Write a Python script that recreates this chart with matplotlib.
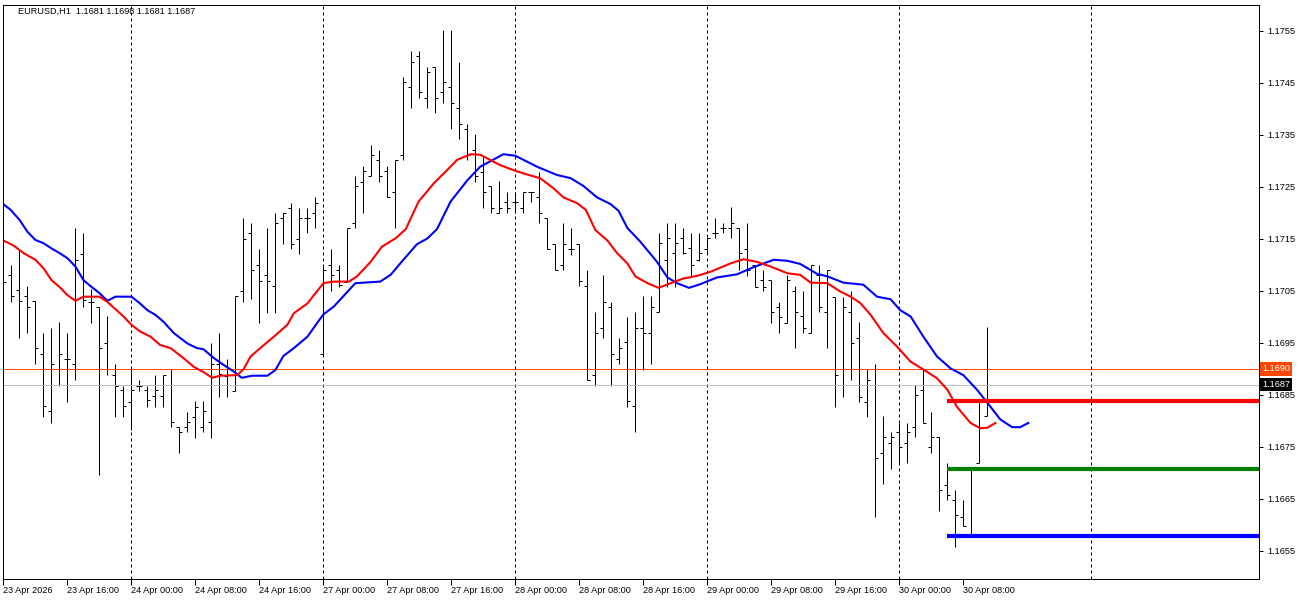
import matplotlib
matplotlib.use("Agg")
import matplotlib.pyplot as plt
import matplotlib.transforms as mtransforms

# EURUSD H1 bars, 23 Apr 08:00 .. 30 Apr 11:00
opens = [1.1703, 1.17081, 1.17051, 1.17040, 1.17031, 1.16929, 1.16819, 1.16899, 1.16919, 1.16910,
         1.17121, 1.17029, 1.17019, 1.16949, 1.16888, 1.16860, 1.16837, 1.16868, 1.16860, 1.16848,
         1.16848, 1.16899, 1.16788, 1.16788, 1.16808, 1.16788, 1.16798, 1.16909, 1.16887, 1.16858,
         1.17050, 1.17161, 1.17100, 1.17080, 1.17060, 1.17190, 1.17209, 1.17149, 1.17190, 1.17199,
         1.16929, 1.17100, 1.17090, 1.17068, 1.17180, 1.17260, 1.17271, 1.17302, 1.17281, 1.17240,
         1.17312, 1.17442, 1.17502, 1.17421, 1.17481, 1.17433, 1.17443, 1.17401, 1.17361, 1.17321,
         1.17279, 1.17252, 1.17199, 1.17222, 1.17222, 1.17210, 1.17241, 1.17231, 1.17190, 1.17140,
         1.17100, 1.17130, 1.17140, 1.17060, 1.16888, 1.16978, 1.17020, 1.16919, 1.16951, 1.16829,
         1.16979, 1.16970, 1.17009, 1.17110, 1.17123, 1.17151, 1.17132, 1.17110, 1.17130, 1.17161,
         1.17171, 1.17171, 1.17172, 1.17130, 1.17100, 1.17071, 1.17071, 1.17020, 1.16989, 1.17050,
         1.17001, 1.16969, 1.17081, 1.17010, 1.17039, 1.16899, 1.17010, 1.16959, 1.16837, 1.16869,
         1.16739, 1.16758, 1.16779, 1.16758, 1.16789, 1.16860, 1.16749, 1.16769, 1.16677, 1.16648,
         1.16616, 1.16578, 1.16719, 1.1681]
highs = [1.17068, 1.17100, 1.17129, 1.17060, 1.17031, 1.16969, 1.16978, 1.16990, 1.16969, 1.17171,
         1.17161, 1.17053, 1.17019, 1.17001, 1.16910, 1.16868, 1.16899, 1.16879, 1.16868, 1.16888,
         1.16888, 1.16899, 1.16788, 1.16818, 1.16838, 1.16838, 1.16949, 1.16969, 1.16919, 1.17040,
         1.17190, 1.17180, 1.17130, 1.17171, 1.17199, 1.17199, 1.17220, 1.17209, 1.17209, 1.17231,
         1.17100, 1.17130, 1.17100, 1.17171, 1.17271, 1.17290, 1.17331, 1.17321, 1.17290, 1.17302,
         1.17461, 1.17512, 1.17512, 1.17481, 1.17481, 1.17552, 1.17552, 1.17491, 1.17371, 1.17352,
         1.17310, 1.17252, 1.17262, 1.17241, 1.17241, 1.17241, 1.17241, 1.17279, 1.17190, 1.17140,
         1.17180, 1.17171, 1.17140, 1.17090, 1.17009, 1.17081, 1.17029, 1.16959, 1.16999, 1.17009,
         1.17040, 1.17040, 1.17162, 1.17181, 1.17181, 1.17172, 1.17162, 1.17162, 1.17154, 1.17190,
         1.17180, 1.17212, 1.17172, 1.17181, 1.17100, 1.17090, 1.17071, 1.17029, 1.17081, 1.17060,
         1.17050, 1.17100, 1.17100, 1.17090, 1.17039, 1.17039, 1.17049, 1.16991, 1.16899, 1.16909,
         1.16810, 1.16779, 1.16797, 1.16797, 1.16869, 1.16899, 1.16818, 1.16769, 1.16719, 1.16667,
         1.16648, 1.16709, 1.16837, 1.1698]
lows = [1.17009, 1.17029, 1.16959, 1.16969, 1.16909, 1.16808, 1.16797, 1.16868, 1.16837, 1.16878,
        1.17019, 1.16989, 1.16696, 1.16888, 1.16808, 1.16808, 1.16783, 1.16858, 1.16827, 1.16827,
        1.16827, 1.16788, 1.16738, 1.16778, 1.16768, 1.16778, 1.16768, 1.16847, 1.16847, 1.16858,
        1.17029, 1.17034, 1.16989, 1.17008, 1.17008, 1.17140, 1.17130, 1.17121, 1.17161, 1.17171,
        1.16929, 1.17049, 1.17058, 1.17068, 1.17171, 1.17199, 1.17271, 1.17260, 1.17230, 1.17171,
        1.17302, 1.17401, 1.17421, 1.17401, 1.17392, 1.17411, 1.17361, 1.17342, 1.17302, 1.17260,
        1.17210, 1.17199, 1.17199, 1.17199, 1.17199, 1.17199, 1.17222, 1.17180, 1.17130, 1.17090,
        1.17090, 1.17119, 1.17060, 1.16879, 1.16868, 1.16959, 1.16868, 1.16909, 1.16827, 1.16778,
        1.16898, 1.16910, 1.17009, 1.17058, 1.17058, 1.17121, 1.17079, 1.17108, 1.17123, 1.17151,
        1.17162, 1.17151, 1.17090, 1.17079, 1.17058, 1.17049, 1.16989, 1.16969, 1.16989, 1.16940,
        1.16969, 1.16969, 1.17010, 1.16940, 1.16827, 1.16847, 1.16879, 1.16837, 1.16808, 1.16616,
        1.16678, 1.16707, 1.16719, 1.16719, 1.16769, 1.16797, 1.16739, 1.16626, 1.16648, 1.16558,
        1.16597, 1.16578, 1.16719, 1.1681]
closes = [1.17068, 1.17040, 1.17031, 1.17020, 1.16940, 1.16829, 1.16910, 1.16929, 1.16919, 1.17110,
          1.17033, 1.17029, 1.16940, 1.16899, 1.16868, 1.16829, 1.16860, 1.16868, 1.16840, 1.16860,
          1.16888, 1.16798, 1.16778, 1.16798, 1.16827, 1.16820, 1.16909, 1.16890, 1.16869, 1.17040,
          1.17149, 1.17090, 1.17070, 1.17070, 1.17180, 1.17199, 1.17140, 1.17190, 1.17190, 1.17220,
          1.17090, 1.17081, 1.17062, 1.17171, 1.17252, 1.17281, 1.17312, 1.17271, 1.17230, 1.17302,
          1.17452, 1.17491, 1.17433, 1.17472, 1.17421, 1.17452, 1.17411, 1.17371, 1.17312, 1.17271,
          1.17241, 1.17210, 1.17210, 1.17210, 1.17222, 1.17241, 1.17241, 1.17199, 1.17130, 1.17090,
          1.17140, 1.17130, 1.17069, 1.16879, 1.16970, 1.17029, 1.16928, 1.16940, 1.16838, 1.16978,
          1.16970, 1.17020, 1.17142, 1.17151, 1.17142, 1.17123, 1.17100, 1.17123, 1.17151, 1.17161,
          1.17171, 1.17181, 1.17123, 1.17090, 1.17058, 1.17058, 1.17009, 1.17000, 1.17071, 1.17010,
          1.16978, 1.17100, 1.17020, 1.17090, 1.16888, 1.17019, 1.16949, 1.16847, 1.16879, 1.16728,
          1.16769, 1.16769, 1.16749, 1.16779, 1.16850, 1.16797, 1.16769, 1.16667, 1.16658, 1.16619,
          1.16597, 1.16709, 1.16837, 1.1687]

# moving averages (bar index, price)
fast_x = [0, 1.3, 2.5, 4.0, 5.0, 6.0, 7.0, 8.0, 9.0, 10.0, 12.0, 13.0, 14.0, 15.0, 16.0, 17.1, 18.4,
          19.6, 20.9, 22.5, 23.8, 25.0, 26.1, 27.1, 29.2, 30.0, 30.9, 32.1, 33.8, 35.5, 36.3, 38.0,
          40.0, 41.3, 43.2, 44.2, 45.9, 47.3, 49.0, 50.3, 51.9, 53.8, 55.5, 56.7, 58.4, 59.6, 62.1,
          64.0, 65.9, 67.1, 68.8, 70.0, 71.7, 72.8, 74.0, 75.5, 76.7, 78.0, 79.0, 80.5, 81.9, 83.4,
          85.0, 86.7, 88.4, 90.9, 92.5, 94.2, 95.9, 98.0, 99.6, 100.9, 103.0, 104.6, 105.9, 107.1,
          108.4, 110.0, 111.7, 113.4, 115.0, 116.7, 118.0, 119.2, 120.9, 122.1, 123.0, 124.0]
fast_ma = [1.17147, 1.17137, 1.17123, 1.17110, 1.17094, 1.17071, 1.17058, 1.17042, 1.17031, 1.17039,
           1.17039, 1.17029, 1.17015, 1.17001, 1.16985, 1.16972, 1.16962, 1.16946, 1.16940, 1.16921,
           1.16904, 1.16894, 1.16883, 1.16887, 1.16888, 1.16899, 1.16924, 1.16940, 1.16962, 1.16985,
           1.17007, 1.17026, 1.17065, 1.17068, 1.17068, 1.17078, 1.17106, 1.17135, 1.17151, 1.17169,
           1.17222, 1.17257, 1.17283, 1.17302, 1.17313, 1.17312, 1.17292, 1.17281, 1.17272, 1.17267,
           1.17247, 1.17230, 1.17219, 1.17206, 1.17167, 1.17147, 1.17123, 1.17103, 1.17078, 1.17065,
           1.17056, 1.17065, 1.17074, 1.17079, 1.17087, 1.17103, 1.17111, 1.17106, 1.17097, 1.17084,
           1.17081, 1.17066, 1.17065, 1.17049, 1.17039, 1.17027, 1.17004, 1.16969, 1.16943, 1.16914,
           1.16899, 1.16882, 1.16860, 1.16827, 1.16796, 1.16786, 1.16787, 1.16796]
slow_x = [0, 0.9, 2.0, 3.0, 4.0, 5.0, 6.0, 7.0, 8.0, 9.0, 10.0, 11.0, 12.0, 13.0, 14.0, 15.0, 16.0,
          17.0, 18.0, 19.0, 20.0, 21.3, 23.0, 24.2, 25.0, 26.3, 27.5, 28.8, 29.8, 31.1, 33.0, 34.0,
          35.0, 36.3, 38.0, 39.2, 40.0, 41.3, 44.0, 47.1, 48.4, 50.0, 51.7, 53.0, 54.2, 55.9, 58.0,
          59.6, 62.5, 64.0, 66.7, 69.2, 70.9, 72.5, 74.2, 75.9, 76.9, 78.0, 79.6, 81.7, 83.0, 84.2,
          85.7, 87.1, 89.2, 91.7, 93.8, 96.3, 98.0, 99.6, 101.7, 103.0, 105.0, 107.5, 109.2, 110.9,
          112.1, 113.4, 115.0, 116.7, 118.4, 120.0, 121.7, 123.4, 124.6, 126.1, 127.1, 128.1]
slow_ma = [1.17217, 1.17206, 1.17187, 1.17164, 1.17148, 1.17142, 1.17132, 1.17123, 1.17113, 1.17097,
           1.17071, 1.17058, 1.17046, 1.17031, 1.17039, 1.17039, 1.17039, 1.17027, 1.17013, 1.17004,
           1.16991, 1.16969, 1.16949, 1.16940, 1.16938, 1.16921, 1.16908, 1.16895, 1.16883, 1.16887,
           1.16887, 1.16898, 1.16925, 1.16940, 1.16962, 1.16988, 1.17005, 1.17020, 1.17065, 1.17068,
           1.17081, 1.17110, 1.17140, 1.17151, 1.17169, 1.17222, 1.17263, 1.17289, 1.17313, 1.17310,
           1.17289, 1.17273, 1.17267, 1.17252, 1.17230, 1.17217, 1.17204, 1.17171, 1.17145, 1.17106,
           1.17076, 1.17065, 1.17056, 1.17063, 1.17076, 1.17082, 1.17096, 1.17110, 1.17108, 1.17102,
           1.17083, 1.17078, 1.17066, 1.17062, 1.17039, 1.17034, 1.17013, 1.17001, 1.16962, 1.16924,
           1.16901, 1.16888, 1.16860, 1.16827, 1.16803, 1.16788, 1.16788, 1.16796]

# levels drawn from the last swing
level_prices = [1.16838, 1.16708, 1.16578]
level_colors = ["#FF0000", "#008000", "#0000FF"]
level_start = 117.9

ask_line = 1.1690
bid_line = 1.1687

tick_pos = list(range(0, 121, 8))
tick_labels = ["23 Apr 2026", "23 Apr 16:00", "24 Apr 00:00", "24 Apr 08:00", "24 Apr 16:00",
               "27 Apr 00:00", "27 Apr 08:00", "27 Apr 16:00", "28 Apr 00:00", "28 Apr 08:00",
               "28 Apr 16:00", "29 Apr 00:00", "29 Apr 08:00", "29 Apr 16:00", "30 Apr 00:00",
               "30 Apr 08:00"]
day_breaks = [16, 40, 64, 88, 112, 136]
price_ticks = [1.1655, 1.1665, 1.1675, 1.1685, 1.1695, 1.1705, 1.1715, 1.1725, 1.1735, 1.1745, 1.1755]

plt.rcParams['font.family'] = ['Liberation Sans', 'DejaVu Sans']
fs = 6.6

fig = plt.figure(figsize=(13, 6), dpi=100)
ax = fig.add_axes([3 / 1300, 21 / 600, 1256 / 1300, 574 / 600])
ax.set_xlim(-0.05, 156.95)
ax.set_ylim(1.16496, 1.17600)

px = 0.72  # one pixel in points
idx = list(range(len(opens)))
ax.vlines(idx, lows, highs, color="black", lw=px)
ax.hlines(opens, [i - 0.38 for i in idx], idx, color="black", lw=px)
ax.hlines(closes, idx, [i + 0.38 for i in idx], color="black", lw=px)

for d in day_breaks:
    ax.axvline(d, color="black", lw=px, ls=(0, (3, 3)))

ax.axhline(ask_line, color="#FF4500", lw=px)
ax.axhline(bid_line, color="#C0C0C0", lw=px)

ax.plot(slow_x, slow_ma, color="#0000FF", lw=1.5)
ax.plot(fast_x, fast_ma, color="#FF0000", lw=1.5)

for p, c in zip(level_prices, level_colors):
    ax.hlines(p, level_start, 157, color=c, lw=3)

ax.yaxis.tick_right()
ax.set_yticks(price_ticks)
ax.set_yticklabels(["%.4f" % p for p in price_ticks])
ax.tick_params(axis="y", direction="out", length=3, width=px, labelsize=fs, pad=3)
ax.set_xticks(tick_pos)
ax.set_xticklabels(tick_labels)
ax.tick_params(axis="x", direction="out", length=4, width=px, labelsize=fs, pad=1)
for lbl in ax.get_xticklabels():
    lbl.set_ha("left")
for s in ax.spines.values():
    s.set_linewidth(px)

trans = mtransforms.blended_transform_factory(ax.transAxes, ax.transData)
ax.text(1.0025, ask_line, "%.4f" % ask_line, transform=trans, fontsize=fs, color="white",
        va="center", ha="left", clip_on=False,
        bbox=dict(facecolor="#FF4500", edgecolor="none", boxstyle="square,pad=0.25"))
ax.text(1.0025, bid_line, "%.4f" % bid_line, transform=trans, fontsize=fs, color="white",
        va="center", ha="left", clip_on=False,
        bbox=dict(facecolor="black", edgecolor="none", boxstyle="square,pad=0.25"))

ax.text(15 / 1256, 1 - 6 / 574, "EURUSD,H1  1.1681 1.1698 1.1681 1.1687", transform=ax.transAxes,
        fontsize=fs, va="center", ha="left")

fig.savefig("out.png", dpi=100)
